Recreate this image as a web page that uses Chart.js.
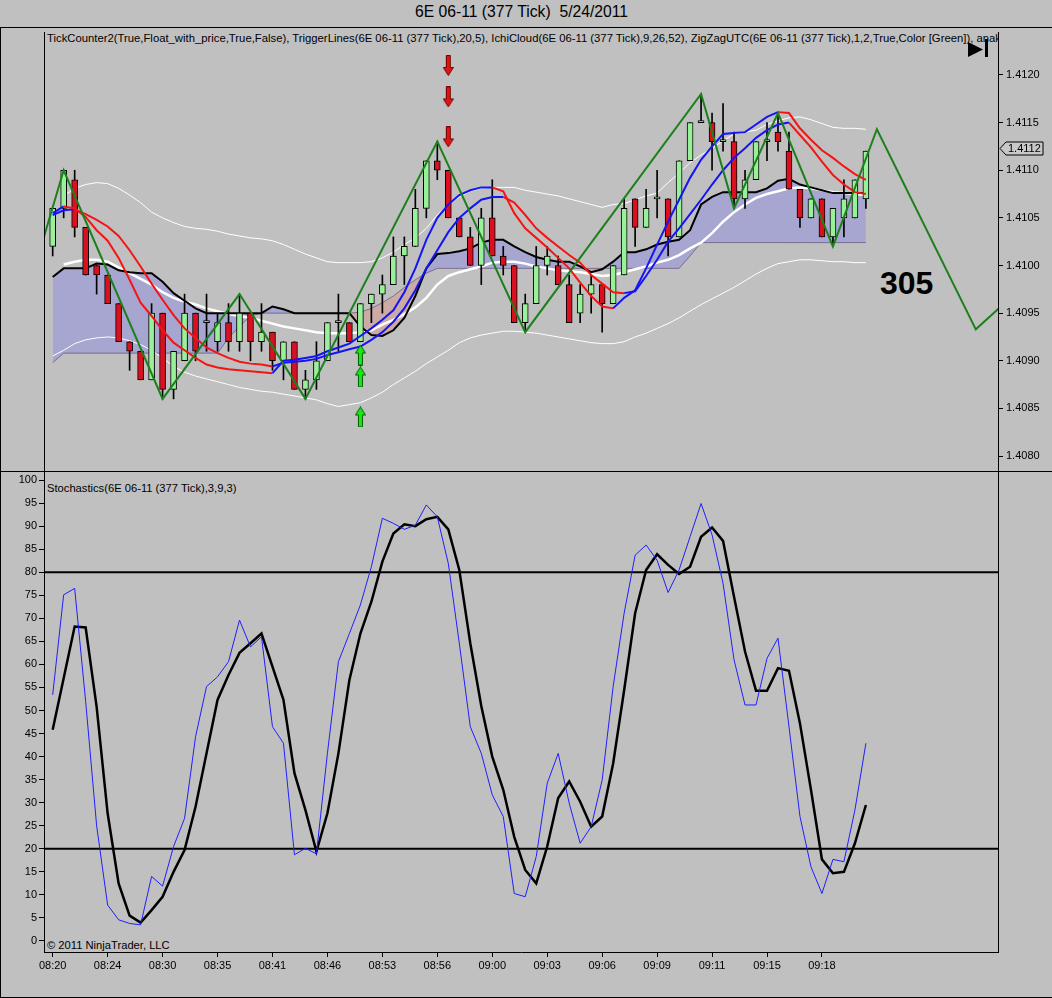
<!DOCTYPE html>
<html>
<head>
<meta charset="utf-8">
<script src="https://cdn.jsdelivr.net/npm/chart.js@4.4.1/dist/chart.umd.min.js"></script>
<style>
html,body{margin:0;padding:0;}
body{width:1052px;height:998px;background:#c0c0c0;position:relative;overflow:hidden;font-family:"Liberation Sans",Arial,sans-serif;color:#000;}
.ln{position:absolute;background:#000;}
.txt{position:absolute;white-space:pre;font-size:11.2px;line-height:13px;}
canvas{position:absolute;left:0;}
</style>
</head>
<body>
<div class="txt" style="left:0;width:1043px;top:3px;text-align:center;font-size:15.7px;line-height:18px;">6E 06-11 (377 Tick)  5/24/2011</div>
<div class="txt" style="left:47px;top:32px;width:951px;overflow:hidden;font-size:11.3px;">TickCounter2(True,Float_with_price,True,False), TriggerLines(6E 06-11 (377 Tick),20,5), IchiCloud(6E 06-11 (377 Tick),9,26,52), ZigZagUTC(6E 06-11 (377 Tick),1,2,True,Color [Green]), anak</div>
<div class="txt" style="left:47px;top:482px;">Stochastics(6E 06-11 (377 Tick),3,9,3)</div>
<div class="txt" style="left:47px;top:939px;">© 2011 NinjaTrader, LLC</div>
<div class="txt" style="left:880px;top:267px;font-size:32px;font-weight:bold;line-height:32px;">305</div>
<div class="ln" style="left:0;top:27px;width:1052px;height:1px"></div>
<div class="ln" style="left:0;top:27px;width:1px;height:971px"></div>
<div class="ln" style="left:0;top:997px;width:1052px;height:1px"></div>
<div class="ln" style="left:0;top:471px;width:1052px;height:1px"></div>
<canvas id="pc" width="1052" height="444" style="top:27px;width:1052px;height:444px"></canvas>
<canvas id="sc" width="1052" height="527" style="top:471px;width:1052px;height:527px"></canvas>
<script>
// ---------------- DATA ----------------
const timeLabels = ['08:20','08:24','08:30','08:35','08:41','08:46','08:53','08:56','09:00','09:03','09:06','09:09','09:11','09:15','09:18'];
const timeLabelBars = [0,5,10,15,20,25,30,35,40,45,50,55,60,65,70];
const priceTicks = [1.4080,1.4085,1.4090,1.4095,1.4100,1.4105,1.4110,1.4115,1.4120];
const stochTicks = [0,5,10,15,20,25,30,35,40,45,50,55,60,65,70,75,80,85,90,95,100];

const open = [1.4102,1.4106,1.4109,1.4104,1.4100,1.4099,1.4096,1.4092,1.4091,1.4088,
1.4095,1.4087,1.4090,1.4095,1.4094,1.4092,1.4094,1.4092,1.4095,1.4092,
1.4093,1.4090,1.4092,1.4087,1.4088,1.4090,1.4094,1.4094,1.4092,1.4096,
1.4097,1.4098,1.4101,1.4102,1.4106,1.4111,1.4110,1.4105,1.4103,1.4100,
1.4105,1.4101,1.4100,1.4094,1.4096,1.4100,1.4100,1.4098,1.4095,1.4097,
1.4098,1.4096,1.4099,1.4107,1.4104,1.4107,1.4107,1.4103,1.4111,1.4115,
1.4115,1.4113,1.4113,1.4107,1.4109,1.4113,1.4114,1.4112,1.4108,1.4105,
1.4107,1.4103,1.4105,1.4105,1.4107];
const high = [1.4106,1.4110,1.4110,1.4104,1.4100,1.4099,1.4096,1.4092,1.4091,1.4096,
1.4095,1.4091,1.4097,1.4095,1.4097,1.4095,1.4096,1.4097,1.4095,1.4096,
1.4093,1.4092,1.4092,1.4089,1.4092,1.4094,1.4097,1.4094,1.4096,1.4097,
1.4099,1.4103,1.4103,1.4108,1.4111,1.4113,1.4110,1.4105,1.4104,1.4106,
1.4109,1.4102,1.4100,1.4097,1.4102,1.4102,1.4101,1.4099,1.4098,1.4099,
1.4098,1.4100,1.4107,1.4107,1.4108,1.4110,1.4107,1.4111,1.4115,1.4118,
1.4116,1.4117,1.4114,1.4110,1.4113,1.4115,1.4116,1.4114,1.4108,1.4107,
1.4107,1.4106,1.4109,1.4109,1.4112];
const low = [1.4101,1.4105,1.4103,1.4099,1.4097,1.4096,1.4092,1.4089,1.4088,1.4088,
1.4086,1.4086,1.4090,1.4090,1.4091,1.4091,1.4091,1.4091,1.4090,1.4091,
1.4089,1.4088,1.4087,1.4086,1.4087,1.4090,1.4091,1.4092,1.4092,1.4094,
1.4095,1.4098,1.4098,1.4102,1.4105,1.4109,1.4105,1.4103,1.4100,1.4098,
1.4101,1.4099,1.4094,1.4093,1.4096,1.4099,1.4098,1.4094,1.4094,1.4095,
1.4093,1.4096,1.4099,1.4102,1.4104,1.4105,1.4101,1.4103,1.4111,1.4115,
1.4110,1.4112,1.4106,1.4106,1.4109,1.4111,1.4112,1.4108,1.4104,1.4105,
1.4103,1.4102,1.4103,1.4105,1.4106];
const close = [1.4106,1.4110,1.4104,1.4099,1.4099,1.4096,1.4092,1.4091,1.4088,1.4095,
1.4087,1.4091,1.4095,1.4091,1.4094,1.4094,1.4092,1.4095,1.4092,1.4093,
1.4090,1.4092,1.4087,1.4088,1.4090,1.4094,1.4094,1.4092,1.4096,1.4097,
1.4098,1.4101,1.4102,1.4106,1.4111,1.4110,1.4105,1.4103,1.4100,1.4105,
1.4101,1.4100,1.4094,1.4096,1.4100,1.4101,1.4098,1.4094,1.4097,1.4098,
1.4096,1.4100,1.4106,1.4104,1.4106,1.4107,1.4103,1.4111,1.4115,1.4115,
1.4113,1.4113,1.4107,1.4109,1.4113,1.4113,1.4113,1.4108,1.4105,1.4107,
1.4103,1.4106,1.4107,1.4109,1.4112];

const upperBand = [null,1.41073,1.41081,1.41085,1.41087,1.41086,1.41081,1.41074,1.41066,1.41056,
1.41050,1.41045,1.41041,1.41039,1.41038,1.41036,1.41033,1.41031,1.41029,1.41028,
1.41026,1.41022,1.41017,1.41012,1.41008,1.41004,1.41003,1.41003,1.41003,1.41004,
1.41008,1.41014,1.41022,1.41029,1.41039,1.41053,1.41064,1.41072,1.41078,1.41081,
1.41082,1.41082,1.41082,1.41079,1.41077,1.41075,1.41073,1.41070,1.41067,1.41064,
1.41061,1.41064,1.41065,1.41069,1.41073,1.41076,1.41087,1.41097,1.41108,1.41116,
1.41123,1.41131,1.41138,1.41140,1.41142,1.41148,1.41152,1.41155,1.41156,1.41153,
1.41149,1.41145,1.41144,1.41144,1.41143];
const lowerBand = [1.40905,1.40911,1.40918,1.40922,1.40924,1.40925,1.40924,1.40921,1.40917,1.40911,
1.40903,1.40894,1.40888,1.40884,1.40881,1.40878,1.40875,1.40872,1.40870,1.40868,
1.40867,1.40865,1.40863,1.40861,1.40859,1.40855,1.40852,1.40854,1.40856,1.40861,
1.40867,1.40875,1.40882,1.40889,1.40897,1.40904,1.40911,1.40919,1.40924,1.40927,
1.40929,1.40931,1.40931,1.40930,1.40929,1.40927,1.40925,1.40923,1.40921,1.40919,
1.40918,1.40918,1.40920,1.40925,1.40929,1.40934,1.40939,1.40945,1.40952,1.40959,
1.40965,1.40971,1.40977,1.40984,1.40991,1.40997,1.41002,1.41004,1.41006,1.41006,
1.41005,1.41004,1.41004,1.41003,1.41003];
const midLine = [null,1.41001,1.41004,1.41006,1.41006,1.41004,1.40998,1.40992,1.40986,1.40980,
1.40972,1.40966,1.40962,1.40959,1.40955,1.40952,1.40949,1.40947,1.40945,1.40942,
1.40939,1.40936,1.40934,1.40932,1.40930,1.40929,1.40929,1.40929,1.40930,1.40932,
1.40938,1.40943,1.40949,1.40956,1.40966,1.40980,1.40989,1.40993,1.40996,1.40999,
1.41003,1.41004,1.41004,1.41002,1.40999,1.40997,1.40995,1.40994,1.40993,1.40991,
1.40989,1.40990,1.40993,1.40996,1.40999,1.41003,1.41006,1.41011,1.41018,1.41024,
1.41034,1.41046,1.41056,1.41064,1.41071,1.41075,1.41078,1.41081,1.41082,1.41081,
1.41079,1.41077,1.41076,1.41075,1.41074];
const kijun = [1.40988,1.40997,1.40997,1.40997,1.41002,1.41001,1.40995,1.40993,1.40992,1.40992,
1.40983,1.40971,1.40963,1.40955,1.40950,1.40950,1.40950,1.40950,1.40950,1.40950,
1.40957,1.40954,1.40950,1.40950,1.40950,1.40950,1.40950,1.40950,1.40936,1.40927,
1.40926,1.40932,1.40945,1.40968,1.40997,1.41012,1.41013,1.41015,1.41018,1.41024,
1.41027,1.41027,1.41020,1.41014,1.41009,1.41006,1.41004,1.41004,1.40999,1.40993,
1.40996,1.41004,1.41014,1.41014,1.41017,1.41022,1.41025,1.41027,1.41037,1.41064,
1.41072,1.41077,1.41077,1.41077,1.41077,1.41081,1.41089,1.41091,1.41085,1.41082,
1.41079,1.41076,1.41076,1.41076,1.41076];
const spanB = [1.40898,1.40908,1.40908,1.40908,1.40908,1.40908,1.40908,1.40908,1.40908,1.40908,
1.40908,1.40908,1.40908,1.40908,1.40908,1.40908,1.40924,1.40936,1.40947,1.40950,
1.40950,1.40950,1.40950,1.40950,1.40950,1.40950,1.40950,1.40950,1.40951,1.40955,
1.40961,1.40968,1.40977,1.40985,1.40992,1.40997,1.40997,1.40997,1.40997,1.40997,
1.40997,1.40997,1.40997,1.40997,1.40997,1.40997,1.40997,1.40997,1.40997,1.40997,
1.40997,1.40997,1.40997,1.40997,1.40997,1.40997,1.40997,1.40997,1.41010,1.41024,
1.41024,1.41024,1.41024,1.41024,1.41024,1.41024,1.41024,1.41024,1.41024,1.41024,
1.41024,1.41024,1.41024,1.41024,1.41024];
const fastMA = [1.41055,1.41062,1.41060,1.41051,1.41037,1.41026,1.41008,1.40985,1.40961,1.40947,
1.40932,1.40919,1.40911,1.40903,1.40896,1.40893,1.40891,1.40890,1.40889,1.40888,
1.40887,1.40900,1.40901,1.40903,1.40905,1.40910,1.40914,1.40918,1.40926,1.40934,
1.40943,1.40953,1.40972,1.40997,1.41027,1.41050,1.41064,1.41074,1.41079,1.41082,
1.41082,1.41078,1.41055,1.41039,1.41029,1.41019,1.41008,1.40997,1.40982,1.40968,
1.40957,1.40955,1.40966,1.40974,1.40997,1.41022,1.41046,1.41069,1.41092,1.41111,
1.41125,1.41138,1.41139,1.41140,1.41148,1.41156,1.41161,1.41160,1.41144,1.41132,
1.41121,1.41113,1.41104,1.41096,1.41090];
const slowMA = [1.41053,1.41058,1.41059,1.41054,1.41048,1.41041,1.41031,1.41016,1.40999,1.40981,
1.40964,1.40948,1.40934,1.40924,1.40914,1.40908,1.40903,1.40899,1.40897,1.40896,
1.40894,1.40898,1.40899,1.40900,1.40902,1.40906,1.40909,1.40912,1.40915,1.40922,
1.40930,1.40941,1.40955,1.40974,1.40997,1.41016,1.41035,1.41050,1.41060,1.41069,
1.41072,1.41072,1.41066,1.41053,1.41039,1.41029,1.41020,1.41011,1.41003,1.40990,
1.40981,1.40972,1.40971,1.40973,1.40989,1.41006,1.41025,1.41039,1.41054,1.41069,
1.41085,1.41100,1.41113,1.41123,1.41134,1.41142,1.41148,1.41150,1.41137,1.41124,
1.41109,1.41095,1.41085,1.41077,1.41075];

const zigzagBars = [-1,1,10,17,23,35,43,59,62,66,71,75,84,88];
const zigzagPrices = [1.41022,1.4110,1.4086,1.4097,1.4086,1.4113,1.4093,1.4118,1.4106,1.4116,1.4102,1.41143,1.40933,1.40975];

const sellSignalBar = 36;
const sellArrowPrices = [1.41210,1.41177,1.41135];
const buySignalBar = 28;
const buyArrowPrices = [1.40906,1.40883,1.40841];

const stochK = [53.4,75.1,76.5,52,25,7.8,4.6,3.8,3.5,14.0,
11.9,20.5,26.6,44.3,55.2,57.3,60.6,69.6,63.8,66.0,
46.5,42.9,18.7,20.1,18.9,40.7,60.6,66.7,72.9,81.2,
91.7,90.6,89.3,90.2,94.6,92.0,81.9,64.6,46.5,40.7,
31.7,27.0,10.3,9.6,18.3,34.2,40.7,29.9,21.2,24.8,
34.9,55.2,71.1,83.7,85.9,82.6,75.6,80.5,87.7,94.9,
88.1,77.6,61.0,51.2,51.2,61.3,65.7,46.5,27.0,16.1,
10.3,17.7,17.2,28.4,42.9];
const stochD = [45.8,57.0,68.2,68.0,50.8,27.7,12.5,5.5,4.0,6.7,
9.6,15.0,19.7,29.1,40.7,52.3,57.7,62.5,64.6,66.7,
59.5,52.3,36.4,28.4,19.4,27.7,40.7,56.6,66.7,73.6,
82.3,88.4,90.4,90.0,91.5,92.0,89.3,80.5,64.6,51.0,
40.0,32.8,22.6,15.4,12.5,20.5,31.0,34.6,30.2,24.8,
27.0,38.5,54.4,71.1,80.5,83.9,81.6,79.6,81.2,87.7,
89.7,86.8,74.7,62.8,54.3,54.3,59.2,58.6,47.2,32.8,
17.7,14.7,15.0,21.2,29.5];
const overbought = 80;
const oversold = 20;

// ---------------- STYLE ----------------
const X_MIN = -0.79, X_MAX = 86.02;
const P_MIN = 1.407843, P_MAX = 1.412451;
const S_MIN = -2.39, S_MAX = 101.74;
const UP_BODY = '#98f098', DOWN_BODY = 'rgb(216,16,32)';
const MA_UP = 'rgb(20,20,245)', MA_DOWN = 'rgb(245,20,20)';
const CLOUD_UP = 'rgb(166,166,208)', CLOUD_DN = 'rgb(204,170,166)';
const ZZ = 'rgb(28,128,28)';
const FONT = '"Liberation Sans", Arial, sans-serif';

Chart.defaults.font.family = FONT;
Chart.defaults.font.size = 11;
Chart.defaults.color = '#000';

const pts = arr => arr.map((v, i) => ({x: i, y: v}));
const slopeColor = c => (c.p1.parsed.y >= c.p0.parsed.y ? MA_UP : MA_DOWN);
const noPad = s => { s.paddingTop = 0; s.paddingBottom = 0; s.paddingLeft = 0; s.paddingRight = 0; };

function makeArrow(up, fill, stroke) {
  const c = document.createElement('canvas');
  c.width = 11; c.height = 21;
  const g = c.getContext('2d');
  g.beginPath();
  if (up) {
    g.moveTo(5.5, 0.5); g.lineTo(10.5, 8.5); g.lineTo(7.5, 8.5); g.lineTo(7.5, 20.5);
    g.lineTo(3.5, 20.5); g.lineTo(3.5, 8.5); g.lineTo(0.5, 8.5);
  } else {
    g.moveTo(5.5, 20.5); g.lineTo(10.5, 12.5); g.lineTo(7.5, 12.5); g.lineTo(7.5, 0.5);
    g.lineTo(3.5, 0.5); g.lineTo(3.5, 12.5); g.lineTo(0.5, 12.5);
  }
  g.closePath();
  g.fillStyle = fill; g.fill();
  g.strokeStyle = stroke; g.lineWidth = 1; g.stroke();
  return c;
}
const sellArrow = makeArrow(false, 'rgb(225,20,20)', 'rgb(110,0,0)');
const buyArrow = makeArrow(true, 'rgb(20,235,20)', 'rgb(0,90,0)');

const bars = close.map((_, i) => i);
const wickData = bars.map(i => ({x: i, y: [low[i], high[i]]}));
const bodyData = bars.map(i => ({x: i, y: [open[i], close[i]]}));
const bodyColors = bars.map(i => (close[i] >= open[i] ? UP_BODY : DOWN_BODY));

const lineBase = {type: 'line', pointRadius: 0, tension: 0, fill: false};

const pricePlugin = {
  id: 'priceDecor',
  afterDraw(chart) {
    const {ctx, chartArea: a, scales} = chart;
    ctx.save();
    ctx.strokeStyle = '#000'; ctx.lineWidth = 1;
    ctx.beginPath(); ctx.moveTo(a.left + 0.5, a.top); ctx.lineTo(a.left + 0.5, a.bottom); ctx.stroke();
    // play-to-end icon
    ctx.fillStyle = '#000';
    ctx.beginPath();
    ctx.moveTo(a.right - 30, a.top + 10); ctx.lineTo(a.right - 15, a.top + 17.5); ctx.lineTo(a.right - 30, a.top + 25);
    ctx.closePath(); ctx.fill();
    ctx.fillRect(a.right - 13, a.top + 7, 3, 18);
    // last price marker
    const last = close[close.length - 1];
    const y = Math.round(scales.y.getPixelForValue(last)) - 2.5;
    const x0 = a.right + 2;
    ctx.beginPath();
    ctx.moveTo(x0, y); ctx.lineTo(x0 + 6, y - 6.5); ctx.lineTo(x0 + 43, y - 6.5);
    ctx.lineTo(x0 + 43, y + 6.5); ctx.lineTo(x0 + 6, y + 6.5); ctx.closePath();
    ctx.fillStyle = '#c8c8c8'; ctx.fill(); ctx.stroke();
    ctx.fillStyle = '#000'; ctx.font = '11px ' + FONT; ctx.textBaseline = 'middle'; ctx.textAlign = 'left';
    ctx.fillText(last.toFixed(4), x0 + 8, y + 0.5);
    ctx.restore();
  }
};

new Chart(document.getElementById('pc'), {
  type: 'line',
  data: {
    datasets: [
      {...lineBase, label: 'SpanB', data: pts(spanB), borderColor: 'rgba(95,85,130,0.75)', borderWidth: 1, order: 10},
      {...lineBase, label: 'Kijun', data: pts(kijun), borderColor: '#000', borderWidth: 2,
        fill: {target: 0, above: CLOUD_UP, below: CLOUD_DN}, order: 6},
      {...lineBase, label: 'Lower', data: pts(lowerBand), borderColor: '#fff', borderWidth: 1, order: 9},
      {...lineBase, label: 'Upper', data: pts(upperBand), borderColor: '#fff', borderWidth: 1, order: 8},
      {...lineBase, label: 'Mid', data: pts(midLine), borderColor: '#fff', borderWidth: 2.5, order: 7},
      {type: 'bar', label: 'Wick', data: wickData, backgroundColor: '#000', borderWidth: 0,
        barThickness: 1, grouped: false, order: 5},
      {type: 'bar', label: 'Body', data: bodyData, backgroundColor: bodyColors, borderColor: '#000',
        borderWidth: 1, borderSkipped: false, barThickness: 6, minBarLength: 2, grouped: false, order: 4},
      {...lineBase, label: 'Slow', data: pts(slowMA), borderWidth: 2, borderColor: MA_DOWN,
        segment: {borderColor: slopeColor}, order: 3},
      {...lineBase, label: 'Fast', data: pts(fastMA), borderWidth: 2, borderColor: MA_DOWN,
        segment: {borderColor: slopeColor}, order: 2},
      {...lineBase, label: 'ZigZag', data: zigzagBars.map((b, i) => ({x: b, y: zigzagPrices[i]})),
        borderColor: ZZ, borderWidth: 2, order: 1},
      {type: 'line', label: 'Sell', data: sellArrowPrices.map(p => ({x: sellSignalBar, y: p})), showLine: false,
        pointStyle: sellArrow, pointRadius: 5, order: 0},
      {type: 'line', label: 'Buy', data: buyArrowPrices.map(p => ({x: buySignalBar, y: p})), showLine: false,
        pointStyle: buyArrow, pointRadius: 5, order: 0}
    ]
  },
  options: {
    responsive: false, maintainAspectRatio: false, animation: false, events: [],
    layout: {autoPadding: false, padding: {left: 44, top: 5, right: 0, bottom: 0}},
    plugins: {legend: {display: false}, tooltip: {enabled: false}, filler: {drawTime: 'beforeDatasetsDraw'}},
    scales: {
      x: {type: 'linear', min: X_MIN, max: X_MAX, offset: false, display: false},
      y: {
        type: 'linear', position: 'right', min: P_MIN, max: P_MAX,
        afterFit: s => { s.width = 54; noPad(s); },
        afterBuildTicks: s => { s.ticks = priceTicks.map(v => ({value: v})); },
        ticks: {callback: v => Number(v).toFixed(4), padding: 3, autoSkip: false, font: {size: 11}},
        grid: {drawOnChartArea: false, drawTicks: true, tickLength: 5, color: '#000', lineWidth: 1},
        border: {display: true, color: '#000', width: 1}
      }
    }
  },
  plugins: [pricePlugin]
});

const stochPlugin = {
  id: 'stochDecor',
  beforeDatasetsDraw(chart) {
    const {ctx, chartArea: a, scales} = chart;
    ctx.save();
    ctx.strokeStyle = '#000'; ctx.lineWidth = 2;
    [overbought, oversold].forEach(v => {
      const y = scales.y.getPixelForValue(v);
      ctx.beginPath(); ctx.moveTo(a.left, y); ctx.lineTo(a.right, y); ctx.stroke();
    });
    ctx.restore();
  },
  afterDraw(chart) {
    const {ctx, chartArea: a} = chart;
    ctx.save();
    ctx.strokeStyle = '#000'; ctx.lineWidth = 1;
    ctx.beginPath(); ctx.moveTo(a.right + 0.5, a.top); ctx.lineTo(a.right + 0.5, a.bottom); ctx.stroke();
    ctx.restore();
  }
};

new Chart(document.getElementById('sc'), {
  type: 'line',
  data: {
    datasets: [
      {...lineBase, label: 'D', data: pts(stochD), borderColor: '#000', borderWidth: 2.5, order: 1},
      {...lineBase, label: 'K', data: pts(stochK), borderColor: 'rgb(30,30,255)', borderWidth: 1, order: 0}
    ]
  },
  options: {
    responsive: false, maintainAspectRatio: false, animation: false, events: [],
    layout: {autoPadding: false, padding: {left: 0, top: 1, right: 54, bottom: 0}},
    plugins: {legend: {display: false}, tooltip: {enabled: false}},
    scales: {
      x: {
        type: 'linear', min: X_MIN, max: X_MAX, offset: false,
        afterFit: s => { s.height = 46; noPad(s); },
        afterBuildTicks: s => { s.ticks = timeLabelBars.map(v => ({value: v})); },
        ticks: {callback: v => timeLabels[timeLabelBars.indexOf(v)], padding: 2, autoSkip: false, maxRotation: 0, font: {size: 11}},
        grid: {drawOnChartArea: false, drawTicks: true, tickLength: 5, color: '#000'},
        border: {display: true, color: '#000', width: 1}
      },
      y: {
        type: 'linear', position: 'left', min: S_MIN, max: S_MAX,
        afterFit: s => { s.width = 44; noPad(s); },
        afterBuildTicks: s => { s.ticks = stochTicks.map(v => ({value: v})); },
        ticks: {callback: v => String(v), padding: 2, autoSkip: false, font: {size: 11}},
        grid: {drawOnChartArea: false, drawTicks: true, tickLength: 5, color: '#000'},
        border: {display: true, color: '#000', width: 1}
      }
    }
  },
  plugins: [stochPlugin]
});
</script>
</body>
</html>
